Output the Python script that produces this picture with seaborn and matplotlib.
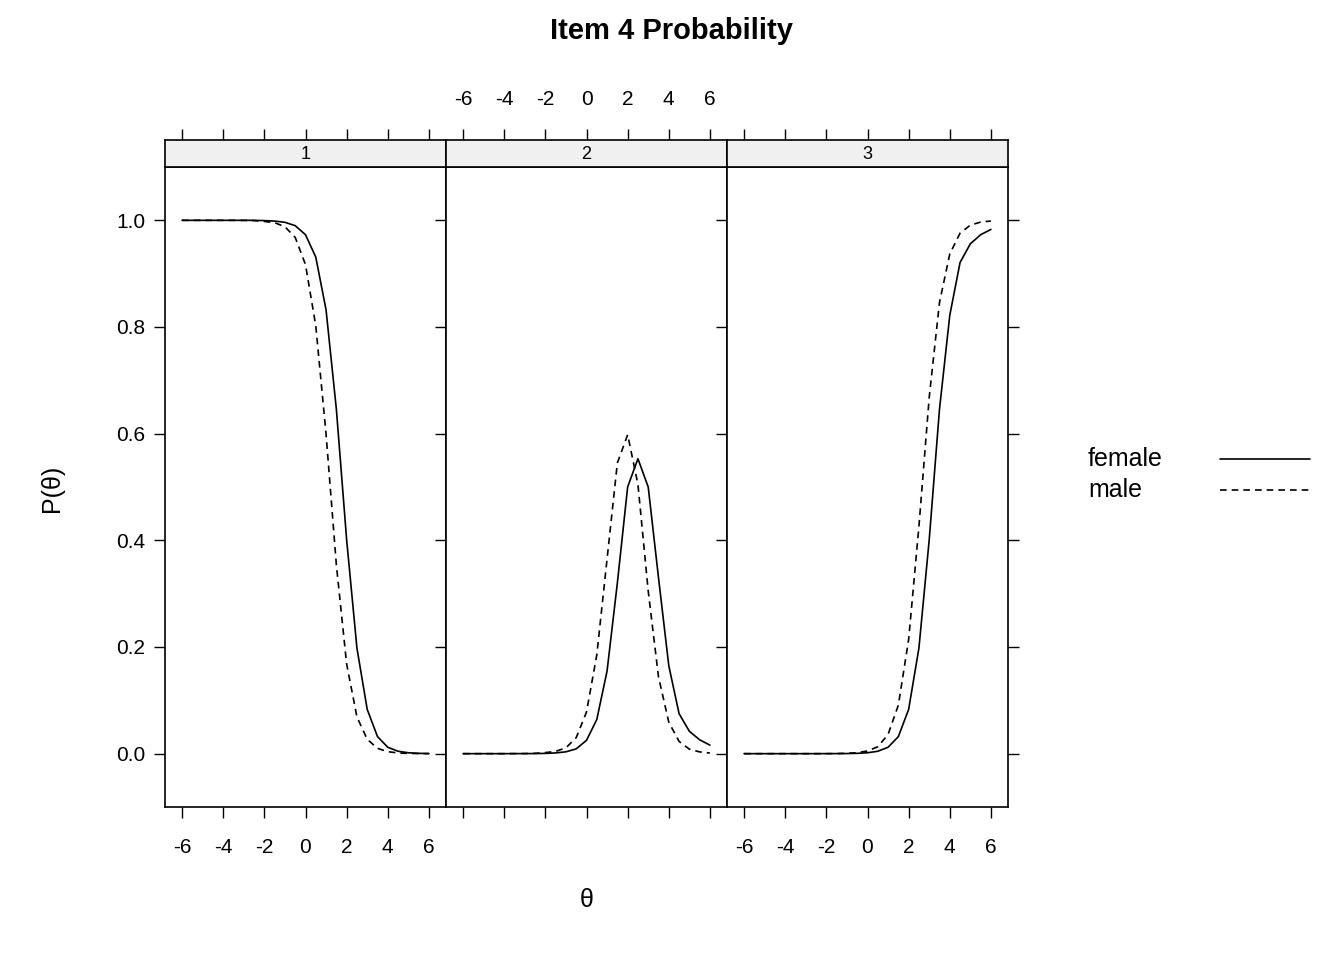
import numpy as np
import pandas as pd
import matplotlib
matplotlib.use("Agg")
import matplotlib.pyplot as plt
import seaborn as sns
from matplotlib.lines import Line2D

sns.set_style("white")
plt.rcParams['font.family'] = ['Liberation Sans', 'DejaVu Sans']
plt.rcParams['axes.unicode_minus'] = False
plt.rcParams['text.color'] = 'black'
plt.rcParams['xtick.color'] = 'black'
plt.rcParams['ytick.color'] = 'black'

theta = [-6, -5.5, -5, -4.5, -4, -3.5, -3, -2.5, -2, -1.5, -1, -0.5, 0,
         0.5, 1, 1.5, 2, 2.5, 3, 3.5, 4, 4.5, 5, 5.5, 6]

female_1 = [1.0, 1.0, 1.0, 1.0, 1.0, 1.0, 1.0, 1.0, 0.9995, 0.9986, 0.9963, 0.990, 0.973,
            0.931, 0.832, 0.646, 0.401, 0.198, 0.083, 0.032, 0.012, 0.0045, 0.0017, 0.0006, 0.0002]
female_2 = [0.0, 0.0, 0.0, 0.0, 0.0, 0.0001, 0.0001, 0.0002, 0.0005, 0.0014, 0.0035, 0.009, 0.025,
            0.064, 0.155, 0.32, 0.50, 0.553, 0.50, 0.33, 0.165, 0.075, 0.042, 0.026, 0.016]
female_3 = [0.0, 0.0, 0.0, 0.0, 0.0, 0.0, 0.0, 0.0, 0.0001, 0.0001, 0.0002, 0.0006, 0.0017,
            0.0045, 0.012, 0.032, 0.083, 0.198, 0.401, 0.646, 0.822, 0.921, 0.956, 0.973, 0.983]

male_1 = [1.0, 1.0, 1.0, 1.0, 1.0, 1.0, 0.9999, 0.9995, 0.998, 0.9955, 0.988, 0.968, 0.917,
          0.802, 0.599, 0.354, 0.168, 0.069, 0.027, 0.010, 0.0037, 0.0014, 0.0005, 0.0002, 0.0001]
male_2 = [0.0, 0.0, 0.0, 0.0, 0.0, 0.0001, 0.0002, 0.0006, 0.002, 0.0043, 0.011, 0.030, 0.078,
          0.185, 0.365, 0.545, 0.598, 0.505, 0.305, 0.144, 0.059, 0.023, 0.0085, 0.0033, 0.0012]
male_3 = [0.0, 0.0, 0.0, 0.0, 0.0, 0.0, 0.0, 0.0, 0.0, 0.0002, 0.0007, 0.0018, 0.005,
          0.013, 0.036, 0.091, 0.214, 0.426, 0.668, 0.846, 0.937, 0.976, 0.991, 0.9967, 0.9988]

categories = ["1", "2", "3"]
groups = ["female", "male"]
curves = {("female", "1"): female_1, ("female", "2"): female_2, ("female", "3"): female_3,
          ("male", "1"): male_1, ("male", "2"): male_2, ("male", "3"): male_3}

rows = []
for (g, c), vals in curves.items():
    for t, p in zip(theta, vals):
        rows.append({"theta": t, "P": p, "group": g, "cat": c})
df = pd.DataFrame(rows)

fig = plt.figure(figsize=(13.44, 9.6), dpi=100)
left, width = 165 / 1344, 281 / 1344
bottom, height = 1 - 807 / 960, 640 / 960
strip_h = 27 / 960
xticks = [-6, -4, -2, 0, 2, 4, 6]
yticks = [0.0, 0.2, 0.4, 0.6, 0.8, 1.0]

for i, c in enumerate(categories):
    ax = fig.add_axes([left + i * width, bottom, width, height])
    sub = df[df["cat"] == c]
    sns.lineplot(data=sub, x="theta", y="P", style="group", style_order=groups,
                 dashes={"female": "", "male": (4, 3)}, color="black", lw=1.2,
                 legend=False, ax=ax)
    ax.set_xlim(-6.83, 6.83)
    ax.set_ylim(-0.1, 1.1)
    ax.set_xlabel("")
    ax.set_ylabel("")
    ax.set_xticks(xticks)
    ax.set_yticks(yticks)
    ax.tick_params(direction="out", length=8, width=1, labelsize=15, color="black",
                   bottom=True, left=True, right=True)
    ax.tick_params(axis="x", labelbottom=(i != 1), pad=14)
    ax.tick_params(axis="y", labelleft=(i == 0), labelright=False, pad=6)
    if i == 0:
        ax.set_yticklabels([f"{v:.1f}" for v in yticks])
    for s in ax.spines.values():
        s.set_color("black")
        s.set_linewidth(1.2)

    strip = fig.add_axes([left + i * width, bottom + height, width, strip_h])
    strip.set_facecolor("#f0f0f0")
    strip.set_xlim(-6.83, 6.83)
    strip.set_yticks([])
    strip.set_xticks(xticks)
    strip.xaxis.set_ticks_position("top")
    strip.tick_params(direction="out", length=8, width=1, labelsize=15, color="black",
                      top=True, bottom=False, labeltop=(i == 1), labelbottom=False, pad=14)
    strip.text(0.5, 0.45, c, transform=strip.transAxes, ha="center", va="center", fontsize=13)
    for s in strip.spines.values():
        s.set_color("black")
        s.set_linewidth(1.2)

fig.text(0.5, 1 - 31 / 960, "Item 4 Probability",
         ha="center", va="center", fontsize=21, fontweight="bold")
fig.text(0.5 * (left + left + 3 * width), 1 - 900 / 960, "θ", ha="center", va="center", fontsize=18)
fig.text(52 / 1344, 1 - 488 / 960, "P(θ)", ha="center", va="center", rotation=90, fontsize=18)

# legend
for k, (g, ls) in enumerate([("female", "-"), ("male", (0, (4, 3)))]):
    y = 1 - (459 + 31 * k) / 960
    fig.text(1088 / 1344, y, g, ha="left", va="center", fontsize=18)
    fig.add_artist(Line2D([1220 / 1344, 1310 / 1344], [y, y], color="black", lw=1.2,
                          linestyle=ls, transform=fig.transFigure))

fig.savefig("out.png", dpi=100)
